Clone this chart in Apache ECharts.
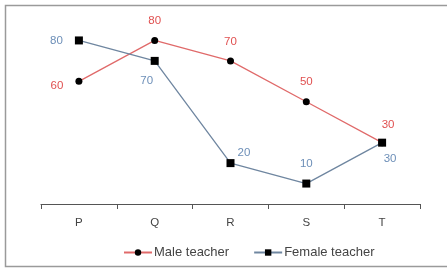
<!DOCTYPE html>
<html><head><meta charset="utf-8">
<script src="https://cdn.jsdelivr.net/npm/echarts@6/dist/echarts.min.js"></script>
<style>html,body{margin:0;padding:0;background:#fff}#c{width:447px;height:269px}</style>
</head><body><div id="c"></div>
<script>
const categories = ['P','Q','R','S','T'];
const maleValues = [60,80,70,50,30];
const femaleValues = [80,70,20,10,30];
const malePos = ['left','top','top','top','top'];
const femalePos = ['left','bottom','right','top','bottom'];

const chart = echarts.init(document.getElementById('c'));
const font = '"Liberation Sans", Arial, sans-serif';
function items(vals, pos, off){
  return vals.map((v,i)=>({value:v,label:{position:pos[i],offset:off[i]}}));
}
chart.setOption({
  animation:false,
  graphic:[{type:'rect',shape:{x:5.5,y:5.5,width:460,height:261},style:{fill:'none',stroke:'#9a9a9a',lineWidth:1.5}}],
  grid:{left:41,right:27,top:20,bottom:65},
  xAxis:{type:'category',data:categories,boundaryGap:true,
    axisLine:{lineStyle:{color:'#555',width:1.2}},
    axisTick:{show:true,length:5,lineStyle:{color:'#555'}},
    axisLabel:{color:'#444',fontSize:11.5,fontFamily:font,margin:13}},
  yAxis:{type:'value',min:0,max:90,show:false},
  legend:{bottom:5,left:118,itemGap:24,itemWidth:28,itemHeight:8,
    textStyle:{color:'#444',fontSize:13,fontFamily:font,padding:[0,0,0,-3]},
    data:['Male teacher','Female teacher']},
  series:[
    {name:'Male teacher',type:'line',data:items(maleValues,malePos,[[-4,4],[0,-2],[0,-2],[0,-2],[6,0]]),
     symbol:'circle',symbolSize:7,itemStyle:{color:'#000'},lineStyle:{color:'#e06a6a',width:1.3},
     label:{show:true,color:'#e05050',fontSize:11.5,fontFamily:font,distance:8}},
    {name:'Female teacher',type:'line',data:items(femaleValues,femalePos,[[-4,0],[-8,2],[-5,-10],[0,-2],[8,-2]]),
     symbol:'rect',symbolSize:8,itemStyle:{color:'#000'},lineStyle:{color:'#6f86a0',width:1.3},
     label:{show:true,color:'#6d8fb8',fontSize:11.5,fontFamily:font,distance:8}}
  ]
});
</script></body></html>
